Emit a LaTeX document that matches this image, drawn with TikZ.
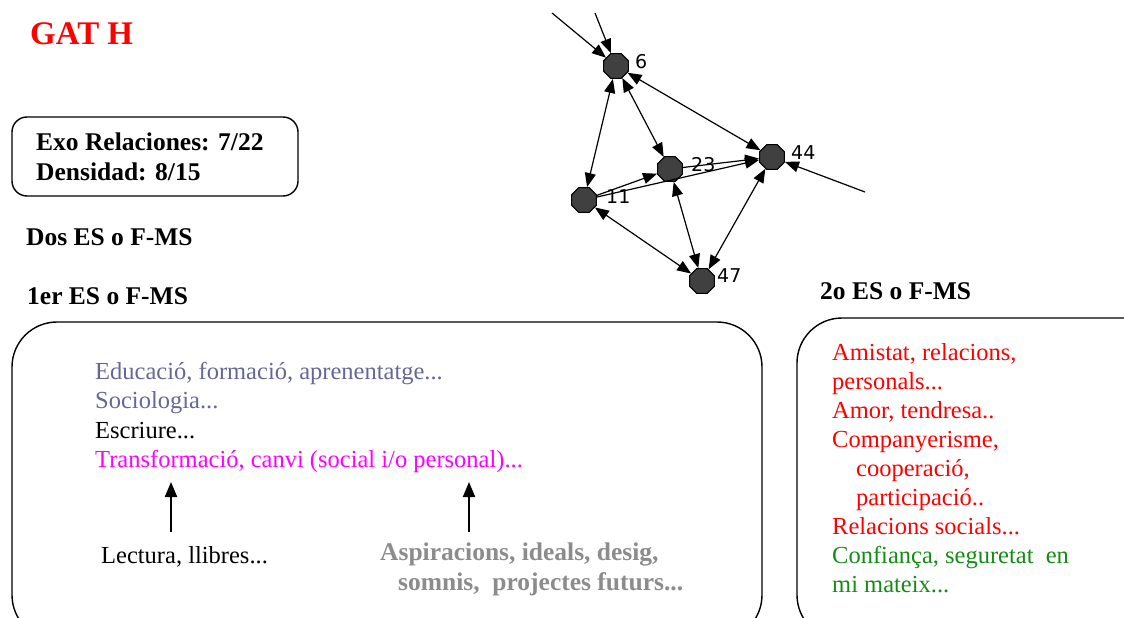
\documentclass[tikz,border=0pt]{standalone}
\usepackage{fontspec}
\setmainfont{Liberation Serif}
\newfontfamily\lblfont{DejaVu Sans}
\usetikzlibrary{arrows.meta,shapes.geometric}
\definecolor{lav}{RGB}{102,102,153}
\definecolor{mag}{RGB}{255,0,255}
\definecolor{grn}{RGB}{20,140,20}
\definecolor{asp}{RGB}{140,140,140}
\definecolor{nodefill}{RGB}{64,64,64}
\begin{document}
\begin{tikzpicture}[x=1pt,y=-1pt,
  txt/.style={anchor=base west,inner sep=0pt,font=\fontsize{24.5}{29}\selectfont},
  bld/.style={anchor=base west,inner sep=0pt,font=\fontsize{25.5}{29}\selectfont\bfseries},
  box/.style={draw=black,line width=1.4pt},
  gnode/.style={regular polygon,regular polygon sides=8,minimum size=27pt,inner sep=0pt,fill=nodefill,draw=black,line width=1pt},
  glbl/.style={anchor=west,inner sep=0pt,font=\lblfont\fontsize{19}{19}\selectfont},
  tip/.style={-{Triangle[length=14pt,width=11pt]}},
  both/.style={{Triangle[length=14pt,width=11pt]}-{Triangle[length=14pt,width=11pt]}},
  gedge/.style={line width=1.2pt},
  bigarrow/.style={line width=2pt,-{Triangle[length=15pt,width=12pt]}}
]
\useasboundingbox (0,0) rectangle (1124,618);

% title and stats
\node[anchor=base west,inner sep=0pt,font=\fontsize{33}{36}\selectfont\bfseries,text=red] (title) at (30,45) {GAT H};
\draw[box,rounded corners=15pt] (12,117) rectangle (298,196);
\node[bld] (exo) at (36,150) {Exo Relaciones: 7/22};
\node[bld] (dens) at (36,180) {Densidad: 8/15};
\node[bld] (dos) at (26,245) {Dos ES o F-MS};
\node[bld] (primer) at (27,304) {1er ES o F-MS};
\node[bld] (segon) at (820,299) {2o ES o F-MS};

% left box
\draw[box,rounded corners=45pt] (12,322) rectangle (762,640);
\node[txt,text=lav] (l1) at (95,379) {Educació, formació, aprenentatge...};
\node[txt,text=lav] (l2) at (95,408) {Sociologia...};
\node[txt,text=black] (l3) at (95,438) {Escriure...};
\node[txt,text=mag] (l4) at (95,467) {Transformació, canvi (social i/o personal)...};
\coordinate (a1s) at (171,532);
\coordinate (a1e) at (171,482);
\coordinate (a2s) at (469,532);
\coordinate (a2e) at (469,482);
\draw[bigarrow] (a1s) -- (a1e);
\draw[bigarrow] (a2s) -- (a2e);
\node[txt,text=black] (lect) at (101,563) {Lectura, llibres...};
\node[bld,text=asp] (asp1) at (380,560) {Aspiracions, ideals, desig,};
\node[bld,text=asp] (asp2) at (398,590) {somnis,\ \ projectes futurs...};

% right box
\draw[box,rounded corners=45pt] (797,318) rectangle (1180,640);
\node[txt,text=red] (r1) at (832,360) {Amistat, relacions,};
\node[txt,text=red] (r2) at (832,389) {personals...};
\node[txt,text=red] (r3) at (832,418) {Amor, tendresa..};
\node[txt,text=red] (r4) at (832,447) {Companyerisme,};
\node[txt,text=red] (r5) at (856,476) {cooperació,};
\node[txt,text=red] (r6) at (856,505) {participació..};
\node[txt,text=red] (r7) at (832,534) {Relacions socials...};
\node[txt,text=grn] (r8) at (832,563) {Confiança, seguretat\ \ en};
\node[txt,text=grn] (r9) at (832,592) {mi mateix...};

% graph
\node[gnode] (n6) at (616,66) {};
\node[gnode] (n23) at (670,169) {};
\node[gnode] (n44) at (772,157) {};
\node[gnode] (n11) at (584,200) {};
\node[gnode] (n47) at (702,281) {};
\node[glbl] (t6) at (635,62) {6};
\node[glbl] (t23) at (691,165) {23};
\node[glbl] (t44) at (791,153) {44};
\node[glbl] (t11) at (606,197) {11};
\node[glbl] (t47) at (717,276) {47};

\coordinate (e1) at (552,13);
\coordinate (e2) at (595,13);
\coordinate (e3) at (865,192);
\draw[gedge,tip] (e1) -- (n6);
\draw[gedge,tip] (e2) -- (n6);
\draw[gedge,tip] (e3) -- (n44);
\draw[gedge,both] (n6) -- (n11);
\draw[gedge,both] (n6) -- (n23);
\draw[gedge,both] (n6) -- (n44);
\draw[gedge,tip] (n11) -- (n23);
\draw[gedge,tip] (n11) -- (n44);
\draw[gedge,tip] (n23) -- (n44);
\draw[gedge,both] (n23) -- (n47);
\draw[gedge,both] (n44) -- (n47);
\draw[gedge,both] (n11) -- (n47);
\end{tikzpicture}
\end{document}
